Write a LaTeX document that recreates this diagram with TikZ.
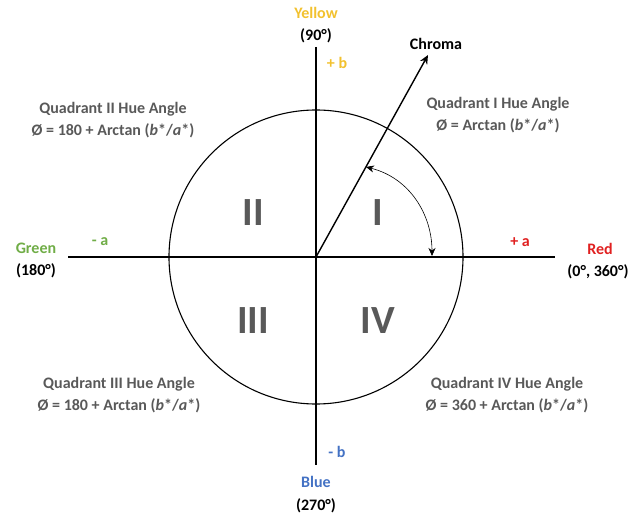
\documentclass[tikz,border=0pt]{standalone}
\usepackage{fontspec}
\setmainfont{Carlito}
\usetikzlibrary{arrows.meta}
\definecolor{txtgray}{HTML}{595959}
\definecolor{cyellow}{HTML}{F2C12E}
\definecolor{cgreen}{HTML}{70AD47}
\definecolor{cred}{HTML}{E02020}
\definecolor{cblue}{HTML}{4472C4}
\tikzset{
  lbl/.style={font=\bfseries\fontsize{16}{21.5}\selectfont, align=center, inner sep=0pt},
  quad/.style={lbl, text=txtgray},
  roman/.style={font=\bfseries\fontsize{40}{40}\selectfont, text=txtgray, inner sep=0pt},
  axis/.style={line width=2.6pt, black},
}
\begin{document}
\begin{tikzpicture}[x=1pt,y=-1pt]
\useasboundingbox (0,0) rectangle (630,518);
\coordinate (O) at (316,257);
\coordinate (L) at (68,257);
\coordinate (R) at (555,257);
\coordinate (T) at (316,47);
\coordinate (B) at (316,465);
\coordinate (C) at (428,55);
\coordinate (A1) at (366,167);
\coordinate (A2) at (432,256);
\draw[line width=1.1pt] (O) circle[radius=147];
\draw[axis] (L) -- (R);
\draw[axis] (T) -- (B);
\draw[line width=1.4pt, -{Stealth[length=9pt,width=8pt]}] (O) -- (C);
\draw[line width=0.6pt, {Stealth[length=8pt,width=7pt]}-{Stealth[length=8pt,width=7pt]}] (A1) .. controls (410,178) and (432,215) .. (A2);
\node[roman] (q1) at (378,213) {I};
\node[roman] (q2) at (253,213) {II};
\node[roman] (q3) at (253,321) {III};
\node[roman] (q4) at (378,321) {IV};
\node[lbl, text=cyellow] (yel) at (316,13) {Yellow};
\node[lbl] (yel2) at (316,36) {(90°)};
\node[lbl, text=cyellow] (pb) at (337,63) {+ b};
\node[lbl] (chroma) at (436,44) {Chroma};
\node[lbl, text=cgreen] (grn) at (36,248) {Green};
\node[lbl] (grn2) at (36,271) {(180°)};
\node[lbl, text=cgreen] (ma) at (100,242) {- a};
\node[lbl, text=cred] (pa) at (520,242) {+ a};
\node[lbl, text=cred] (red) at (600,249) {Red};
\node[lbl] (red2) at (598,272) {(0°, 360°)};
\node[lbl, text=cblue] (mb) at (337,452) {- b};
\node[lbl, text=cblue] (blu) at (316,482) {Blue};
\node[lbl] (blu2) at (316,506) {(270°)};
\node[quad] (t2) at (113,120) {Quadrant II Hue Angle\\Ø = 180 + Arctan (\textit{b}*/\textit{a}*)};
\node[quad] (t1) at (498,115) {Quadrant I Hue Angle\\Ø = Arctan (\textit{b}*/\textit{a}*)};
\node[quad] (t3) at (119,395) {Quadrant III Hue Angle\\Ø = 180 + Arctan (\textit{b}*/\textit{a}*)};
\node[quad] (t4) at (507,395) {Quadrant IV Hue Angle\\Ø = 360 + Arctan (\textit{b}*/\textit{a}*)};
\end{tikzpicture}
\end{document}
